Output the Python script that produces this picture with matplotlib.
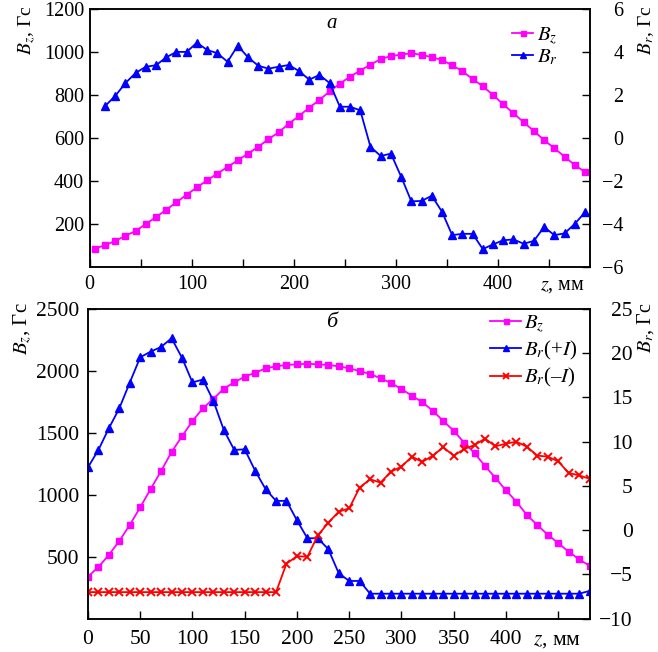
import matplotlib
matplotlib.use('Agg')
import matplotlib.pyplot as plt

plt.rcParams['font.family'] = ['Liberation Serif', 'DejaVu Serif']
plt.rcParams['mathtext.fontset'] = 'stix'

# panel a: z grid (mm), Bz (Gs, left axis), Br (Gs, right axis)
z_a_bz = list(range(5, 490, 10))
z_a_br = list(range(15, 490, 10))
bz_a = [84, 100, 120, 144, 166, 199, 231, 265, 300, 335, 369, 402, 433, 464, 495,
        526, 557, 593, 625, 665, 701, 740, 775, 816, 851, 884, 912, 940, 965, 980,
        986, 993, 985, 975, 961, 937, 909, 873, 839, 799, 755, 714, 672, 631, 589,
        551, 512, 473, 441]
br_a = [1.47, 1.94, 2.54, 3.01, 3.30, 3.37, 3.74, 3.99, 3.99, 4.42, 4.08, 3.93,
        3.53, 4.28, 3.74, 3.35, 3.21, 3.30, 3.38, 3.10, 2.70, 2.92, 2.54, 1.44,
        1.44, 1.27, -0.43, -0.85, -0.74, -1.81, -2.96, -2.94, -2.70, -3.44, -4.53,
        -4.47, -4.47, -5.18, -4.96, -4.77, -4.73, -4.93, -4.80, -4.15, -4.53,
        -4.45, -4.01, -3.47]

# panel b
z_b = list(range(0, 490, 10))
bz_b = [339, 417, 514, 627, 756, 898, 1046, 1191, 1344, 1471, 1594, 1697, 1772,
        1855, 1906, 1952, 1983, 2019, 2035, 2046, 2051, 2056, 2051, 2046, 2035,
        2019, 1997, 1973, 1938, 1901, 1852, 1798, 1746, 1677, 1594, 1516, 1419,
        1334, 1231, 1135, 1035, 944, 836, 756, 677, 610, 540, 479, 427]
br_plus = [7.09, 9.05, 11.5, 13.75, 16.65, 19.51, 20.15, 20.68, 21.66, 19.45,
           16.67, 17.0, 14.6, 11.3, 9.05, 9.12, 6.7, 4.62, 3.3, 3.3, 1.1, -0.92,
           -0.92, -2.15, -4.87, -5.74, -5.74, -7.18] + [-7.18] * 20 + [-6.87]
br_minus = [-7.0] * 19 + [-3.78, -2.95, -3.0, -0.6, 0.83, 2.08, 2.46, 4.8, 5.74,
                          5.36, 6.6, 7.16, 8.29, 7.7, 8.41, 9.36, 8.4, 9.14, 9.61,
                          10.33, 9.46, 9.76, 9.98, 9.42, 8.41, 8.29, 7.77, 6.45,
                          6.18, 5.8]

MAG = '#ff00ff'
BLUE = '#0000ff'
RED = '#ff0000'

fig = plt.figure(figsize=(6.58, 6.52), dpi=100)

# ---------- panel a ----------
ax1 = fig.add_axes([0.1363, 0.5909, 0.7604, 0.3958])
ax2 = ax1.twinx()
l1, = ax1.plot(z_a_bz, bz_a, color=MAG, marker='s', ms=4.5, lw=1.3, label='$B_z$')
l2, = ax2.plot(z_a_br, br_a, color=BLUE, marker='^', ms=6, lw=1.3, label='$B_r$')
ax1.set_xlim(0, 490)
ax1.set_ylim(0, 1200)
ax2.set_ylim(-6, 6)
ax1.set_xticks(range(0, 500, 50))
ax1.set_xticklabels(['0', '', '100', '', '200', '', '300', '', '400', ''])
ax1.set_yticks(range(200, 1201, 200))
ax2.set_yticks(range(-6, 7, 2))
ax1.tick_params(direction='in', length=6, width=1, labelsize=14.5)
ax1.tick_params(axis='x', pad=6)
ax1.tick_params(axis='y', pad=4)
ax2.tick_params(direction='in', length=6, width=1, labelsize=14.5, pad=24)
for t in ax2.get_yticklabels():
    t.set_horizontalalignment('right')
for a in (ax1, ax2):
    for s in a.spines.values():
        s.set_linewidth(1.1)
ax2.legend(handles=[l1, l2], loc='upper left', bbox_to_anchor=(0.845, 0.936),
           frameon=False, borderpad=0, borderaxespad=0, handlelength=1.0,
           handletextpad=0.2, labelspacing=0.05, fontsize=15, markerscale=0.8)
ax1.text(0.484, 0.941, 'а', transform=ax1.transAxes, fontsize=15,
         fontstyle='italic', ha='center', va='center')
ax1.text(0.944, -0.071, '$z$, мм', transform=ax1.transAxes, fontsize=14.5,
         ha='center', va='center')
fig.text(27 / 658, 0.992, '$B_z$, Гс', rotation=90, fontsize=14, ha='center', va='top')
fig.text(646 / 658, 0.992, '$B_r$, Гс', rotation=90, fontsize=14, ha='center', va='top')

# ---------- panel b ----------
ax3 = fig.add_axes([0.1337, 0.0511, 0.7622, 0.4755])
ax4 = ax3.twinx()
l3, = ax3.plot(z_b, bz_b, color=MAG, marker='s', ms=4.5, lw=1.3, label='$B_z$')
l4, = ax4.plot(z_b, br_plus, color=BLUE, marker='^', ms=6, lw=1.3, label='$B_r$(+$I$)')
l5, = ax4.plot(z_b, br_minus, color=RED, marker='x', ms=6, mew=1.4, lw=1.3,
               label='$B_r$(–$I$)')
ax3.set_xlim(0, 480)
ax3.set_ylim(0, 2500)
ax4.set_ylim(-10, 25)
ax3.set_xticks(range(0, 500, 50))
ax3.set_xticklabels([str(v) for v in range(0, 450, 50)] + [''])
ax3.set_yticks(range(500, 2501, 500))
ax4.set_yticks(range(-10, 26, 5))
ax3.tick_params(direction='in', length=6, width=1, labelsize=15.5)
ax3.tick_params(axis='x', pad=8)
ax3.tick_params(axis='y', pad=6)
ax4.tick_params(direction='in', length=6, width=1, labelsize=15.5, pad=31)
for t in ax4.get_yticklabels():
    t.set_horizontalalignment('right')
for a in (ax3, ax4):
    for s in a.spines.values():
        s.set_linewidth(1.1)
ax4.legend(handles=[l3, l4, l5], loc='upper left', bbox_to_anchor=(0.8016, 0.985),
           frameon=False, borderpad=0, borderaxespad=0, handlelength=1.5,
           handletextpad=0.15, labelspacing=0.2, fontsize=15, markerscale=0.8)
ax3.text(0.4865, 0.954, 'б', transform=ax3.transAxes, fontsize=16,
         fontstyle='italic', ha='center', va='center')
ax3.text(0.935, -0.069, '$z$, мм', transform=ax3.transAxes, fontsize=15.5,
         ha='center', va='center')
fig.text(23 / 658, 0.537, '$B_z$, Гс', rotation=90, fontsize=15, ha='center', va='top')
fig.text(646 / 658, 0.537, '$B_r$, Гс', rotation=90, fontsize=14.5, ha='center', va='top')

fig.savefig('out.png', dpi=100)
